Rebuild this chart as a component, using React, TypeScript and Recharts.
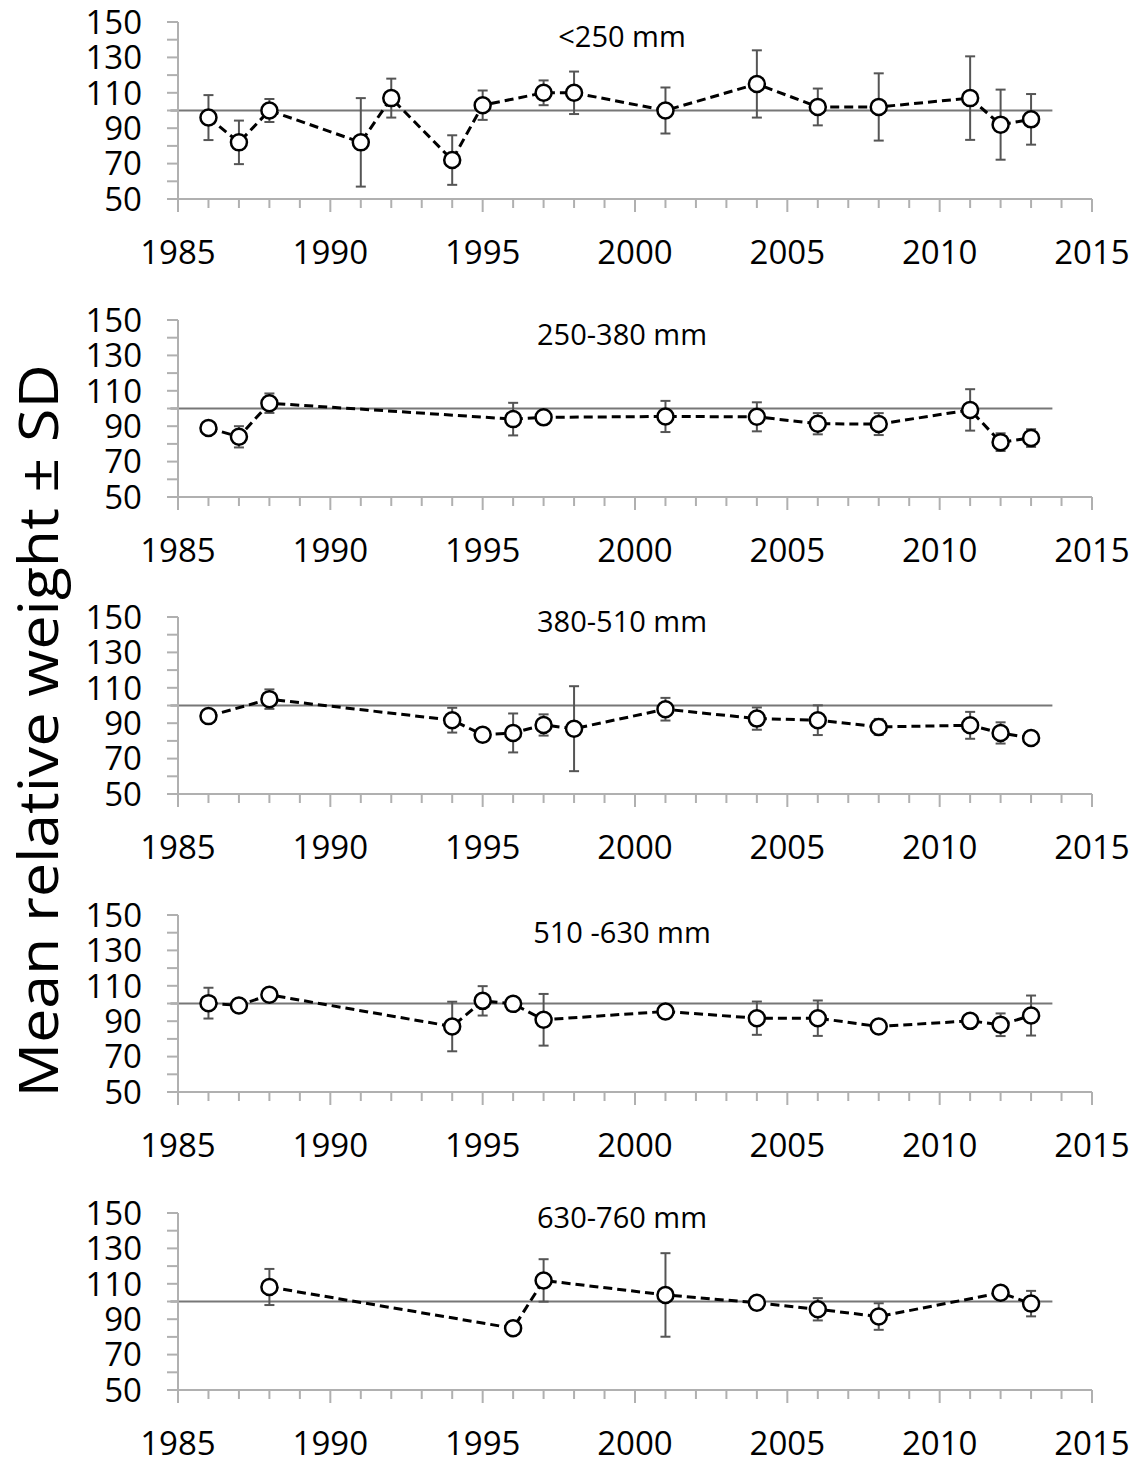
import React from "react";
import { LineChart, Line, XAxis, YAxis, ErrorBar, ReferenceLine } from "recharts";

// ── Data (mean relative weight and SD per length class) ─────────────

const years250 = [1986, 1987, 1988, 1991, 1992, 1994, 1995, 1997, 1998, 2001, 2004, 2006, 2008, 2011, 2012, 2013];
const mean250 = [96, 82, 100, 82, 107, 72, 103, 110, 110, 100, 115, 102, 102, 107, 92, 95];
const sd250 = [12.7, 12.3, 6.5, 25, 11, 14, 8.3, 7, 12, 13, 19, 10.4, 19, 23.6, 19.8, 14.3];

const years380 = [1986, 1987, 1988, 1996, 1997, 2001, 2004, 2006, 2008, 2011, 2012, 2013];
const mean380 = [89, 84, 103, 94, 95, 95.5, 95.3, 91.4, 91.2, 99.2, 81, 83.3];
const sd380 = [0, 6, 5.5, 9.2, 3, 8.8, 8.2, 6, 6.2, 11.7, 5, 5];

const years510 = [1986, 1988, 1994, 1995, 1996, 1997, 1998, 2001, 2004, 2006, 2008, 2011, 2012, 2013];
const mean510 = [94, 103.6, 91.7, 83.5, 84.5, 89, 86.9, 97.9, 92.6, 91.7, 87.9, 88.8, 84.5, 81.6];
const sd510 = [0, 5.5, 7, 0, 11, 6, 24, 6.4, 6.3, 8.4, 4.5, 7.6, 6, 3];

const years630 = [1986, 1987, 1988, 1994, 1995, 1996, 1997, 2001, 2004, 2006, 2008, 2011, 2012, 2013];
const mean630 = [100.2, 98.9, 104.9, 87, 101.5, 99.8, 90.8, 95.5, 91.7, 91.7, 87, 90.2, 88, 93.2];
const sd630 = [8.7, 0, 2, 14, 8.3, 0, 14.6, 0, 9.4, 10, 0, 0, 6.4, 11.3];

const years760 = [1988, 1996, 1997, 2001, 2004, 2006, 2008, 2012, 2013];
const mean760 = [108.2, 84.9, 111.9, 103.7, 99.3, 95.6, 91.5, 104.9, 98.8];
const sd760 = [10.2, 0, 12, 23.6, 0, 6.3, 7.5, 0, 7.2];

const yearTicks = [
  1985, 1986, 1987, 1988, 1989, 1990, 1991, 1992, 1993, 1994, 1995, 1996, 1997, 1998, 1999, 2000,
  2001, 2002, 2003, 2004, 2005, 2006, 2007, 2008, 2009, 2010, 2011, 2012, 2013, 2014, 2015,
];
const weightTicks = [50, 60, 70, 80, 90, 100, 110, 120, 130, 140, 150];

const panelTitles = ["<250 mm", "250-380 mm", "380-510 mm", "510 -630 mm", "630-760 mm"];
const yLabel = "Mean relative weight \u00b1 SD";

// ── Layout ───────────────────────────────────────────────────────────

const FONT = "'Open Sans', 'Noto Sans', sans-serif";
const AXIS_GRAY = "#b0b0b0";
const W = 1139;
const PLOT_TOP = [22, 320, 617, 915, 1213];
const TITLE_Y = [37, 335, 622, 933, 1218];
const MARGIN_TOP = 22;
const PLOT_H = 177;
const XAXIS_H = 90;

const panels = [
  { years: years250, mean: mean250, sd: sd250 },
  { years: years380, mean: mean380, sd: sd380 },
  { years: years510, mean: mean510, sd: sd510 },
  { years: years630, mean: mean630, sd: sd630 },
  { years: years760, mean: mean760, sd: sd760 },
];

function YearTick(props: any) {
  const { x, y, payload } = props;
  const major = payload.value % 5 === 0;
  return (
    <g>
      <line x1={x} x2={x} y1={y} y2={y + (major ? 13 : 9)} stroke={AXIS_GRAY} strokeWidth={2} />
      {major && (
        <text x={x} y={y + 53} dy="0.36em" textAnchor="middle" fontSize={33} fontFamily={FONT} fill="#000">
          {payload.value}
        </text>
      )}
    </g>
  );
}

function OpenDot(props: any) {
  const { cx, cy, index } = props;
  return <circle key={index} cx={cx} cy={cy} r={8} fill="#fff" stroke="#000" strokeWidth={2.5} />;
}

function Panel({ years, mean, sd }: { years: number[]; mean: number[]; sd: number[] }) {
  const rows = years.map((year, i) => ({ year, mean: mean[i], sd: sd[i] }));
  return (
    <LineChart
      width={W}
      height={MARGIN_TOP + PLOT_H + XAXIS_H}
      data={rows}
      margin={{ top: MARGIN_TOP, right: 47, left: 0, bottom: 0 }}
    >
      <XAxis
        dataKey="year"
        type="number"
        domain={[1985, 2015]}
        ticks={yearTicks}
        interval={0}
        height={XAXIS_H}
        tickSize={0}
        tickMargin={0}
        tickLine={false}
        tick={<YearTick />}
        axisLine={{ stroke: AXIS_GRAY, strokeWidth: 2 }}
      />
      <YAxis
        type="number"
        domain={[50, 150]}
        ticks={weightTicks}
        interval={0}
        width={178}
        tickSize={11}
        tickMargin={25}
        tickFormatter={(v: number) => ((v - 50) % 20 === 0 ? String(v) : "")}
        tick={{ fill: "#000", fontSize: 33, fontFamily: FONT }}
        tickLine={{ stroke: AXIS_GRAY, strokeWidth: 2 }}
        axisLine={{ stroke: AXIS_GRAY, strokeWidth: 2 }}
      />
      <ReferenceLine
        segment={[
          { x: 1984.75, y: 100 },
          { x: 2013.7, y: 100 },
        ]}
        ifOverflow="visible"
        stroke="#777"
        strokeWidth={2}
      />
      <Line
        dataKey="mean"
        type="linear"
        stroke="#000"
        strokeWidth={3}
        strokeDasharray="9 5"
        dot={<OpenDot />}
        activeDot={false}
        isAnimationActive={false}
      >
        <ErrorBar dataKey="sd" width={5} stroke="#555" strokeWidth={2} direction="y" isAnimationActive={false} />
      </Line>
    </LineChart>
  );
}

export default function App() {
  return (
    <div style={{ position: "absolute", left: 0, top: 0, width: W, height: 1464, background: "#fff", overflow: "hidden" }}>
      {panels.map((p, i) => (
        <div key={i} style={{ position: "absolute", left: 0, top: PLOT_TOP[i] - MARGIN_TOP }}>
          <Panel years={p.years} mean={p.mean} sd={p.sd} />
        </div>
      ))}
      <svg
        width={W}
        height={1464}
        style={{ position: "absolute", left: 0, top: 0, pointerEvents: "none" }}
      >
        {panelTitles.map((t, i) => (
          <text
            key={t}
            x={622}
            y={TITLE_Y[i]}
            dy="0.36em"
            textAnchor="middle"
            fontSize={29}
            fontFamily={FONT}
            fill="#000"
          >
            {t}
          </text>
        ))}
        <text
          x={58}
          y={731}
          transform="rotate(-90 58 731)"
          textAnchor="middle"
          fontSize={54}
          fontFamily={FONT}
          fill="#000"
          textLength={733}
          lengthAdjust="spacingAndGlyphs"
        >
          {yLabel}
        </text>
      </svg>
    </div>
  );
}
